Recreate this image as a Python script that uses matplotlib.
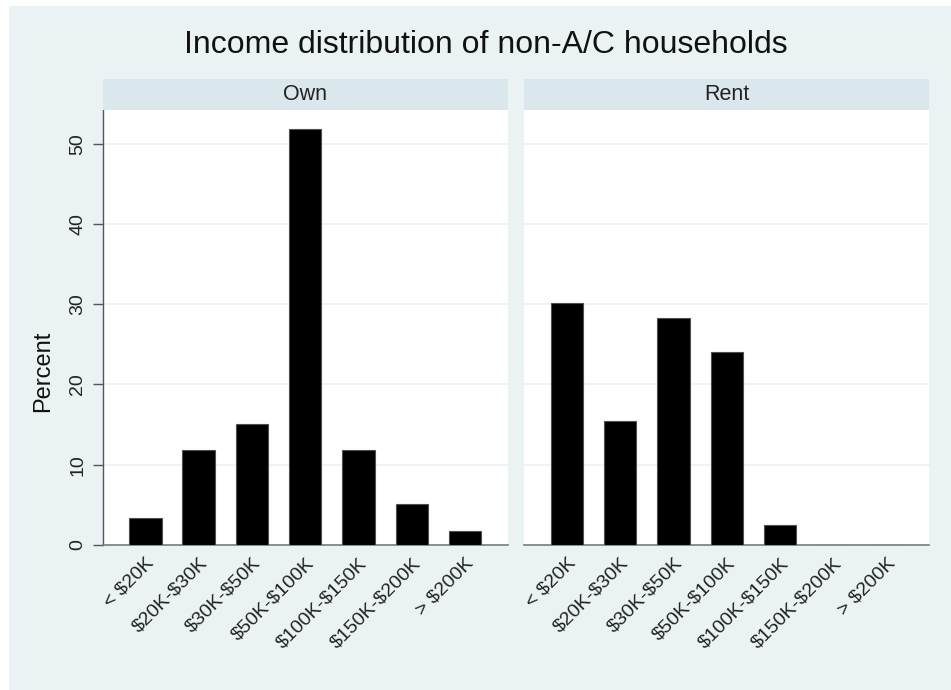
import matplotlib
matplotlib.use("Agg")
import matplotlib.pyplot as plt
from matplotlib.patches import Rectangle
import numpy as np

plt.rcParams['font.family'] = ['Liberation Sans', 'DejaVu Sans']

categories = ["< $20K", "$20K-$30K", "$30K-$50K", "$50K-$100K",
              "$100K-$150K", "$150K-$200K", "> $200K"]
own_pct = [3.4, 11.8, 15.1, 51.8, 11.8, 5.1, 1.7]
rent_pct = [30.1, 15.5, 28.3, 24.1, 2.5, 0.0, 0.0]
panels = ["Own", "Rent"]
yticks = [0, 10, 20, 30, 40, 50]
title = "Income distribution of non-A/C households"
ylabel = "Percent"

W, H = 951, 690
fig = plt.figure(figsize=(W / 100, H / 100), dpi=100)
fig.patch.set_facecolor("white")
BG = "#EAF2F3"
STRIP = "#DAE7EC"
fig.patches.append(Rectangle((9 / W, 0), 1 - 9 / W, 1 - 6 / H,
                             transform=fig.transFigure, facecolor=BG,
                             edgecolor="none", zorder=-10))

ax_bottom = (H - 545) / H
ax_height = 435 / H
ax_width = 405 / W
lefts = [102.7 / W, 524.3 / W]
x = np.arange(len(categories))

for i, (name, vals) in enumerate(zip(panels, [own_pct, rent_pct])):
    ax = fig.add_axes([lefts[i], ax_bottom, ax_width, ax_height])
    ax.set_facecolor("white")
    ax.bar(x, vals, width=0.61, color="black", edgecolor="#505050",
           linewidth=0.8, zorder=3)
    ax.set_xlim(-0.8, 6.8)
    ax.set_ylim(0, 54.2)
    ax.set_yticks(yticks)
    for yv in yticks[1:]:
        ax.axhline(yv, color=BG, linewidth=1.2, zorder=1)
    ax.set_xticks(x)
    ax.set_xticklabels(categories, rotation=45, ha="right",
                       rotation_mode="anchor", va="top", fontsize=14,
                       color="#222222", parse_math=False)
    ax.tick_params(axis="x", length=0, pad=7)
    for s in ["top", "right"]:
        ax.spines[s].set_visible(False)
    ax.spines["bottom"].set_color("#7a7a7a")
    ax.spines["bottom"].set_linewidth(1.2)
    if i == 0:
        ax.spines["left"].set_color("#555555")
        ax.spines["left"].set_linewidth(1.0)
        ax.tick_params(axis="y", length=7, width=1.0, color="#555555",
                       pad=5, labelsize=14, labelcolor="#222222")
        for lab in ax.get_yticklabels():
            lab.set_rotation(90)
            lab.set_va("center")
            lab.set_ha("right")
    else:
        ax.spines["left"].set_visible(False)
        ax.tick_params(axis="y", length=0, labelleft=False)
    # strip
    sax = fig.add_axes([lefts[i], (H - 109.5) / H, ax_width, 30.5 / H])
    sax.set_facecolor(STRIP)
    sax.set_xticks([])
    sax.set_yticks([])
    for s in sax.spines.values():
        s.set_visible(False)
    sax.text(0.5, 0.5, name, ha="center", va="center", fontsize=15.5,
             color="#222222", transform=sax.transAxes)

fig.text(485.5 / W, (H - 45) / H, title, ha="center", va="center",
         fontsize=23, color="#111111")
fig.text(43 / W, (H - 371) / H, ylabel, ha="center", va="center",
         rotation=90, fontsize=17, color="#111111")

fig.savefig("out.png", dpi=100, facecolor=fig.get_facecolor())
